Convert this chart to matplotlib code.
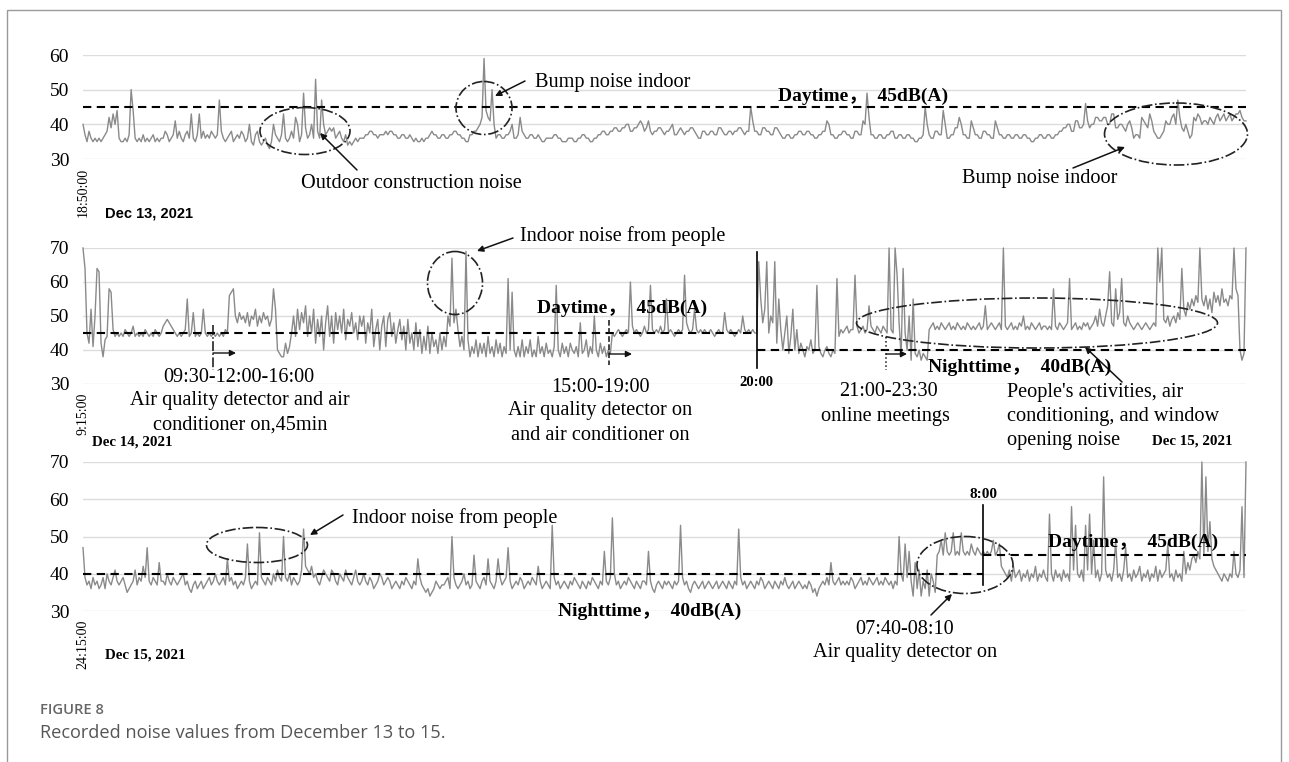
import numpy as np
import matplotlib
matplotlib.use('Agg')
import matplotlib.pyplot as plt
import matplotlib.transforms as mtransforms
from matplotlib.patches import Ellipse, FancyArrowPatch, Rectangle
from matplotlib.lines import Line2D

W, H = 1289, 762

# ---------------- data (dB(A)) ----------------
noise_dec13 = [
    40, 37, 35, 38, 36, 35, 36, 35, 36, 35, 36, 37, 38, 42, 39, 43, 40, 44, 36, 35,
    35, 36, 35, 37, 50, 44, 36, 35, 36, 35, 37, 35, 36, 35, 36, 37, 35, 36, 35, 36,
    36, 38, 37, 35, 36, 37, 41, 36, 38, 36, 35, 37, 38, 36, 43, 36, 35, 37, 43, 36,
    38, 36, 37, 36, 38, 37, 36, 37, 47, 38, 36, 35, 36, 37, 38, 35, 36, 37, 36, 38,
    37, 35, 36, 40, 35, 34, 37, 38, 35, 34, 35, 36, 34, 33, 35, 40, 37, 36, 35, 37,
    43, 36, 35, 36, 38, 36, 42, 40, 35, 37, 49, 39, 36, 37, 40, 36, 53, 38, 36, 47,
    40, 37, 38, 39, 38, 39, 36, 37, 38, 36, 35, 37, 34, 35, 34, 35, 36, 35, 36, 36,
    36, 37, 37, 38, 38, 37, 37, 36, 37, 37, 37, 38, 37, 38, 38, 37, 37, 36, 36, 37,
    37, 36, 36, 37, 36, 35, 36, 35, 35, 36, 35, 36, 36, 37, 38, 37, 37, 36, 36, 37,
    37, 36, 36, 37, 37, 38, 38, 37, 37, 36, 36, 35, 35, 37, 37, 38, 38, 39, 40, 42,
    59, 44, 42, 41, 50, 40, 36, 37, 37, 36, 36, 37, 37, 38, 40, 36, 36, 37, 42, 38,
    37, 36, 36, 37, 37, 36, 36, 37, 36, 35, 35, 36, 36, 36, 36, 37, 37, 36, 36, 35,
    35, 35, 36, 36, 36, 35, 35, 36, 36, 37, 37, 36, 36, 35, 35, 36, 36, 37, 37, 38,
    38, 37, 37, 38, 38, 39, 39, 38, 38, 39, 39, 40, 40, 38, 38, 39, 39, 40, 41, 40,
    38, 39, 41, 38, 37, 38, 38, 39, 39, 38, 37, 38, 38, 39, 40, 37, 37, 38, 39, 38,
    37, 38, 38, 39, 39, 38, 37, 36, 36, 38, 38, 37, 37, 38, 38, 37, 37, 39, 39, 38,
    37, 37, 38, 38, 37, 38, 38, 39, 39, 38, 37, 38, 38, 45, 41, 38, 38, 37, 37, 39,
    39, 38, 38, 37, 37, 39, 39, 38, 37, 36, 36, 37, 37, 36, 36, 37, 37, 38, 38, 37,
    37, 38, 38, 37, 37, 36, 36, 37, 37, 38, 38, 41, 40, 37, 37, 36, 36, 37, 37, 38,
    38, 37, 37, 36, 36, 38, 38, 37, 37, 41, 40, 49, 42, 37, 37, 36, 36, 37, 37, 36,
    36, 37, 37, 38, 38, 36, 36, 37, 37, 36, 36, 37, 37, 36, 36, 35, 35, 36, 36, 37,
    45, 40, 37, 36, 36, 38, 38, 37, 37, 44, 40, 36, 36, 37, 37, 39, 39, 42, 40, 37,
    37, 36, 36, 41, 39, 37, 37, 36, 36, 38, 38, 37, 37, 36, 36, 41, 39, 37, 37, 36,
    36, 37, 37, 36, 36, 37, 37, 36, 36, 37, 37, 36, 36, 35, 35, 36, 36, 37, 37, 36,
    36, 37, 37, 36, 36, 37, 37, 38, 38, 39, 39, 40, 40, 38, 38, 41, 41, 39, 39, 40,
    46, 41, 39, 40, 40, 42, 42, 41, 41, 42, 42, 40, 40, 43, 43, 39, 39, 40, 40, 39,
    38, 40, 41, 39, 36, 37, 37, 36, 42, 41, 40, 39, 43, 41, 38, 37, 36, 36, 37, 38,
    41, 40, 40, 42, 43, 40, 47, 42, 39, 38, 40, 38, 36, 37, 42, 41, 43, 42, 40, 41,
    41, 40, 42, 41, 40, 42, 43, 41, 42, 43, 41, 42, 43, 41, 42, 43, 43, 44, 42, 41, 41,
]

noise_dec14 = [
    70, 64, 45, 42, 52, 41, 50, 64, 63, 42, 38, 43, 44, 58, 57, 46, 44, 45, 44, 45,
    44, 46, 45, 44, 45, 47, 44, 45, 44, 45, 44, 46, 45, 44, 45, 44, 46, 45, 44, 45,
    47, 48, 49, 48, 47, 46, 45, 44, 45, 44, 45, 46, 55, 44, 45, 51, 44, 45, 44, 45,
    52, 45, 44, 45, 44, 45, 44, 45, 44, 45, 44, 46, 45, 56, 57, 58, 50, 48, 51, 49,
    50, 48, 51, 47, 50, 49, 52, 47, 50, 48, 51, 49, 50, 47, 49, 58, 52, 40, 39, 38,
    38, 42, 39, 41, 45, 50, 44, 52, 46, 51, 48, 53, 44, 50, 45, 52, 42, 49, 44, 50,
    40, 48, 53, 44, 50, 42, 51, 46, 50, 45, 52, 43, 49, 47, 51, 45, 48, 43, 50, 47,
    50, 42, 48, 45, 52, 41, 46, 49, 40, 47, 50, 41, 49, 51, 44, 48, 42, 46, 49, 43,
    47, 40, 49, 42, 45, 40, 48, 41, 46, 39, 44, 40, 47, 39, 45, 41, 43, 39, 45, 40,
    44, 41, 50, 47, 67, 48, 52, 46, 41, 44, 40, 69, 43, 38, 41, 39, 43, 38, 42, 39,
    42, 38, 44, 39, 41, 38, 43, 39, 42, 38, 41, 39, 61, 40, 57, 40, 38, 41, 38, 43,
    38, 41, 39, 43, 38, 40, 38, 44, 39, 41, 38, 42, 39, 40, 38, 41, 59, 40, 38, 42,
    39, 41, 38, 42, 40, 39, 41, 38, 48, 39, 40, 43, 38, 41, 39, 50, 40, 38, 42, 39,
    41, 38, 40, 39, 45, 44, 45, 46, 45, 44, 45, 46, 45, 60, 47, 45, 46, 45, 44, 45,
    47, 45, 46, 59, 46, 45, 46, 45, 47, 45, 46, 55, 45, 46, 45, 44, 45, 46, 45, 46,
    62, 48, 46, 45, 46, 52, 46, 45, 46, 45, 46, 45, 45, 46, 45, 44, 45, 46, 45, 45,
    51, 46, 45, 46, 45, 44, 45, 46, 45, 50, 46, 45, 46, 45, 46, 45, 45, 66, 55, 48,
    52, 66, 45, 50, 48, 66, 42, 55, 46, 40, 45, 50, 39, 44, 52, 40, 46, 39, 42, 40,
    38, 41, 40, 43, 39, 40, 59, 41, 39, 38, 40, 41, 39, 38, 40, 39, 61, 44, 46, 45,
    46, 47, 45, 46, 46, 62, 47, 45, 46, 47, 45, 46, 53, 47, 46, 45, 47, 46, 45, 47,
    46, 45, 70, 46, 45, 70, 62, 48, 38, 64, 45, 40, 50, 37, 55, 39, 38, 40, 37, 39,
    38, 37, 46, 47, 48, 46, 47, 46, 48, 47, 46, 47, 48, 46, 47, 46, 48, 47, 46, 47,
    46, 48, 47, 46, 47, 46, 47, 48, 46, 47, 53, 46, 47, 48, 47, 46, 47, 48, 46, 70,
    47, 46, 47, 48, 46, 47, 46, 48, 47, 50, 46, 47, 46, 48, 47, 46, 47, 48, 46, 47,
    47, 46, 47, 46, 58, 47, 46, 48, 47, 46, 47, 48, 61, 46, 47, 48, 46, 47, 46, 48,
    47, 48, 46, 47, 48, 50, 47, 52, 48, 47, 50, 53, 63, 48, 47, 58, 49, 51, 61, 48,
    47, 50, 48, 47, 46, 47, 48, 47, 46, 47, 48, 47, 46, 47, 48, 47, 70, 60, 70, 49,
    48, 50, 47, 49, 50, 48, 51, 49, 64, 52, 50, 54, 52, 55, 53, 56, 54, 70, 55, 53,
    56, 52, 55, 51, 57, 54, 56, 53, 58, 54, 55, 53, 56, 55, 70, 58, 56, 40, 37, 39, 70,
]

noise_dec15 = [
    47, 39, 37, 38, 36, 39, 37, 38, 36, 37, 39, 36, 40, 38, 37, 39, 41, 38, 37, 38,
    39, 37, 35, 36, 37, 38, 41, 37, 39, 38, 42, 39, 47, 38, 37, 39, 38, 37, 43, 38,
    38, 37, 40, 38, 37, 39, 38, 37, 38, 39, 40, 37, 38, 36, 35, 37, 38, 36, 37, 38,
    36, 37, 38, 39, 37, 38, 40, 38, 37, 38, 39, 37, 44, 38, 39, 37, 38, 36, 37, 38,
    37, 39, 48, 38, 36, 37, 38, 37, 51, 39, 38, 37, 39, 38, 37, 40, 38, 41, 39, 38,
    50, 39, 38, 40, 37, 39, 38, 37, 38, 41, 52, 42, 41, 40, 42, 39, 40, 38, 37, 39,
    41, 40, 39, 38, 41, 40, 38, 37, 40, 39, 38, 41, 39, 38, 37, 39, 41, 38, 37, 38,
    40, 38, 37, 39, 38, 36, 37, 38, 40, 39, 37, 38, 39, 38, 36, 37, 38, 37, 36, 38,
    37, 39, 38, 37, 36, 38, 37, 44, 39, 37, 36, 35, 36, 34, 35, 36, 38, 37, 36, 37,
    37, 38, 39, 36, 50, 39, 37, 36, 37, 38, 40, 37, 38, 36, 37, 45, 38, 37, 36, 38,
    39, 37, 44, 38, 37, 36, 38, 44, 39, 37, 38, 39, 47, 38, 36, 37, 38, 37, 39, 38,
    36, 37, 38, 37, 39, 38, 37, 42, 38, 36, 37, 38, 37, 36, 53, 39, 37, 38, 36, 37,
    38, 37, 36, 38, 37, 39, 38, 37, 36, 38, 37, 36, 38, 37, 39, 38, 37, 36, 38, 37,
    46, 38, 37, 39, 55, 40, 37, 38, 36, 37, 38, 37, 39, 38, 37, 36, 38, 37, 36, 38,
    38, 37, 46, 38, 36, 35, 37, 38, 37, 36, 38, 37, 38, 37, 36, 38, 37, 38, 53, 39,
    37, 38, 36, 35, 37, 38, 37, 36, 37, 38, 36, 37, 38, 37, 36, 37, 38, 36, 37, 38,
    37, 36, 38, 37, 36, 38, 37, 52, 39, 37, 38, 36, 37, 38, 37, 36, 38, 37, 39, 38,
    36, 37, 38, 37, 36, 38, 37, 36, 38, 37, 39, 37, 36, 37, 38, 36, 37, 38, 37, 36,
    37, 36, 38, 37, 35, 36, 34, 36, 37, 38, 37, 39, 37, 43, 38, 37, 38, 39, 37, 38,
    37, 38, 37, 39, 38, 36, 37, 38, 39, 37, 38, 37, 39, 38, 37, 38, 39, 37, 38, 37,
    39, 38, 37, 38, 36, 38, 37, 50, 40, 38, 48, 39, 46, 38, 34, 43, 36, 41, 34, 38,
    36, 41, 34, 40, 38, 35, 45, 46, 49, 45, 51, 46, 45, 46, 51, 45, 46, 45, 51, 46,
    45, 46, 45, 48, 46, 45, 47, 46, 45, 46, 45, 46, 45, 46, 49, 45, 46, 48, 42, 41,
    40, 39, 41, 38, 42, 39, 40, 41, 38, 40, 39, 41, 38, 40, 39, 42, 38, 40, 39, 41,
    39, 38, 56, 40, 38, 41, 39, 40, 38, 41, 39, 40, 38, 58, 41, 53, 40, 39, 41, 38,
    53, 41, 56, 40, 49, 39, 41, 38, 40, 66, 41, 39, 40, 38, 41, 49, 39, 40, 38, 41,
    47, 39, 40, 38, 41, 39, 40, 42, 38, 40, 39, 41, 38, 40, 39, 42, 38, 41, 39, 40,
    41, 48, 39, 40, 38, 41, 39, 40, 38, 46, 40, 43, 41, 44, 45, 43, 46, 44, 70, 45,
    66, 46, 54, 44, 42, 41, 40, 39, 38, 40, 39, 38, 40, 39, 46, 40, 39, 41, 58, 39, 70,
]

ticks_dec13 = [30, 40, 50, 60]
ticks_other = [30, 40, 50, 60, 70]
day_limit = 45
night_limit = 40
# sample index of the 20:00 switch (Dec 14) and the 8:00 switch (Dec 15)
switch_20h = 336
switch_8h = 449

SERIF = ['Liberation Serif', 'Noto Sans CJK SC']
LINE_C = '#8a8a8a'
DASH = (0, (4, 2.6))
ANN = 14.6

fig = plt.figure(figsize=(W / 100, H / 100), dpi=100)
pix = mtransforms.Affine2D().scale(1 / W, -1 / H).translate(0, 1) + fig.transFigure


def make_ax(y_top_px, y_bot_px, values, ticks):
    ax = fig.add_axes([83 / W, 1 - y_bot_px / H, 1163 / W, (y_bot_px - y_top_px) / H])
    x = np.arange(len(values))
    ax.plot(x, values, color=LINE_C, lw=1.0, clip_on=False, zorder=2)
    ax.set_xlim(0, len(values) - 1)
    ax.set_ylim(ticks[0], ticks[-1])
    ax.set_yticks(ticks)
    ax.set_xticks([])
    for s in ax.spines.values():
        s.set_visible(False)
    ax.yaxis.grid(True, color='#dcdcdc', lw=1.0, zorder=0)
    ax.set_axisbelow(True)
    ax.tick_params(axis='y', length=0, pad=10, labelsize=14)
    for lb in ax.get_yticklabels():
        lb.set_family(SERIF)
    ax.patch.set_alpha(0)
    return ax


ax1 = make_ax(55, 159, noise_dec13, ticks_dec13)
ax2 = make_ax(248, 384, noise_dec14, ticks_other)
ax3 = make_ax(462, 611, noise_dec15, ticks_other)

n1 = len(noise_dec13) - 1
n2 = len(noise_dec14) - 1
n3 = len(noise_dec15) - 1
# limit lines
ax1.plot([0, n1], [day_limit, day_limit], color='k', lw=1.5, ls=DASH, zorder=3)
ax2.plot([0, switch_20h], [day_limit, day_limit], color='k', lw=1.5, ls=DASH, zorder=3)
ax2.plot([switch_20h, n2], [night_limit, night_limit], color='k', lw=1.5, ls=DASH, zorder=3)
ax2.plot([switch_20h, switch_20h], [68.8, 34.7], color='k', lw=1.2, clip_on=False, zorder=3)
ax3.plot([0, switch_8h], [night_limit, night_limit], color='k', lw=1.5, ls=DASH, zorder=3)
ax3.plot([switch_8h, n3], [day_limit, day_limit], color='k', lw=1.5, ls=DASH, zorder=3)
ax3.plot([switch_8h, switch_8h], [58.4, 37.0], color='k', lw=1.2, clip_on=False, zorder=3)


def ptext(x, y, s, ha='left', va='center', size=ANN, weight='normal', family=SERIF, **kw):
    fig.text(x, y, s, transform=pix, ha=ha, va=va, fontsize=size, fontweight=weight,
             family=family, **kw)


def ell(cx, cy, w, h):
    fig.add_artist(Ellipse((cx, cy), w, h, transform=pix, fill=False, ec='#222222',
                           lw=1.2, ls='-.'))


def arrow(x1, y1, x2, y2, lw=1.1):
    fig.add_artist(FancyArrowPatch((x1, y1), (x2, y2), transform=pix, arrowstyle='-|>',
                                   mutation_scale=9, color='#111111', lw=lw,
                                   shrinkA=0, shrinkB=0))


def seg(x1, y1, x2, y2, ls='-', lw=1.1):
    fig.add_artist(Line2D([x1, x2], [y1, y2], transform=pix, color='#111111', lw=lw, ls=ls))


# ---------------- panel 1 annotations ----------------
ell(305, 131, 90, 47)
ell(484, 108, 56, 53)
ell(1176, 134, 143, 62)
arrow(357, 170, 320, 133)
arrow(525, 81, 495, 96)
arrow(1073, 168, 1125, 147)
ptext(411, 184, 'Outdoor construction noise', ha='center')
ptext(535, 83, 'Bump noise indoor')
ptext(1040, 179, 'Bump noise indoor', ha='center')
ptext(778, 96, 'Daytime，  45dB(A)', size=14, weight='bold')
ptext(83, 168, '18:50:00', ha='center', va='top', size=10, rotation=90)
ptext(105, 213, 'Dec 13, 2021', size=10.5, weight='bold', family=['Liberation Sans'])

# ---------------- panel 2 annotations ----------------
ell(455, 283, 55, 63)
ell(1037, 323, 361, 50)
arrow(513, 238, 477, 251)
arrow(1122, 382, 1085, 347)
ptext(520, 236, 'Indoor noise from people')
ptext(537, 308, 'Daytime，  45dB(A)', size=14, weight='bold')
ptext(928, 367, 'Nighttime，  40dB(A)', size=14, weight='bold')
# event markers
seg(213, 325, 213, 370, ls='-.')
arrow(213, 353, 236, 353, lw=1.0)
seg(609, 320, 609, 365, ls='--')
arrow(609, 354, 632, 354, lw=1.0)
seg(886, 337, 886, 370, ls=':')
arrow(886, 354, 907, 354, lw=1.0)
ptext(239, 377, '09:30-12:00-16:00', ha='center')
ptext(240, 400, 'Air quality detector and air', ha='center')
ptext(240, 425, 'conditioner on,45min', ha='center')
ptext(600, 387, '15:00-19:00', ha='center')
ptext(600, 411, 'Air quality detector on', ha='center')
ptext(600, 435, 'and air conditioner on', ha='center')
ptext(756, 383, '20:00', ha='center', size=10.5, weight='bold')
ptext(888, 392, '21:00-23:30', ha='center')
ptext(885, 416, 'online meetings', ha='center')
ptext(1007, 393, "People's activities, air")
ptext(1007, 417, 'conditioning, and window')
ptext(1007, 441, 'opening noise')
ptext(1152, 441, 'Dec 15, 2021', size=10.8, weight='bold')
ptext(83, 393, '9:15:00', ha='center', va='top', size=10, rotation=90)
ptext(92, 442, 'Dec 14, 2021', size=10.8, weight='bold')

# ---------------- panel 3 annotations ----------------
ell(257, 545, 101, 35)
ell(965, 565, 96, 57)
arrow(343, 515, 310, 535)
arrow(931, 615, 952, 594)
ptext(352, 518, 'Indoor noise from people')
ptext(983, 495, '8:00', ha='center', size=11, weight='bold')
ptext(1048, 542, 'Daytime，  45dB(A)', size=14, weight='bold')
ptext(558, 611, 'Nighttime，  40dB(A)', size=14, weight='bold')
ptext(905, 629, '07:40-08:10', ha='center')
ptext(905, 652, 'Air quality detector on', ha='center')
ptext(83, 620, '24:15:00', ha='center', va='top', size=10, rotation=90)
ptext(105, 655, 'Dec 15, 2021', size=10.8, weight='bold')

# ---------------- caption & frame ----------------
ptext(40, 710, 'FIGURE 8', size=10.6, weight='semibold', family=['Open Sans'],
      color='#666666')
ptext(40, 733, 'Recorded noise values from December 13 to 15.', size=13.1,
      family=['Open Sans'], color='#555555')
fig.add_artist(Rectangle((7, 10), 1274, 800, transform=pix, fill=False,
                         ec='#9a9a9a', lw=1.0))

fig.savefig('out.png', dpi=100)
